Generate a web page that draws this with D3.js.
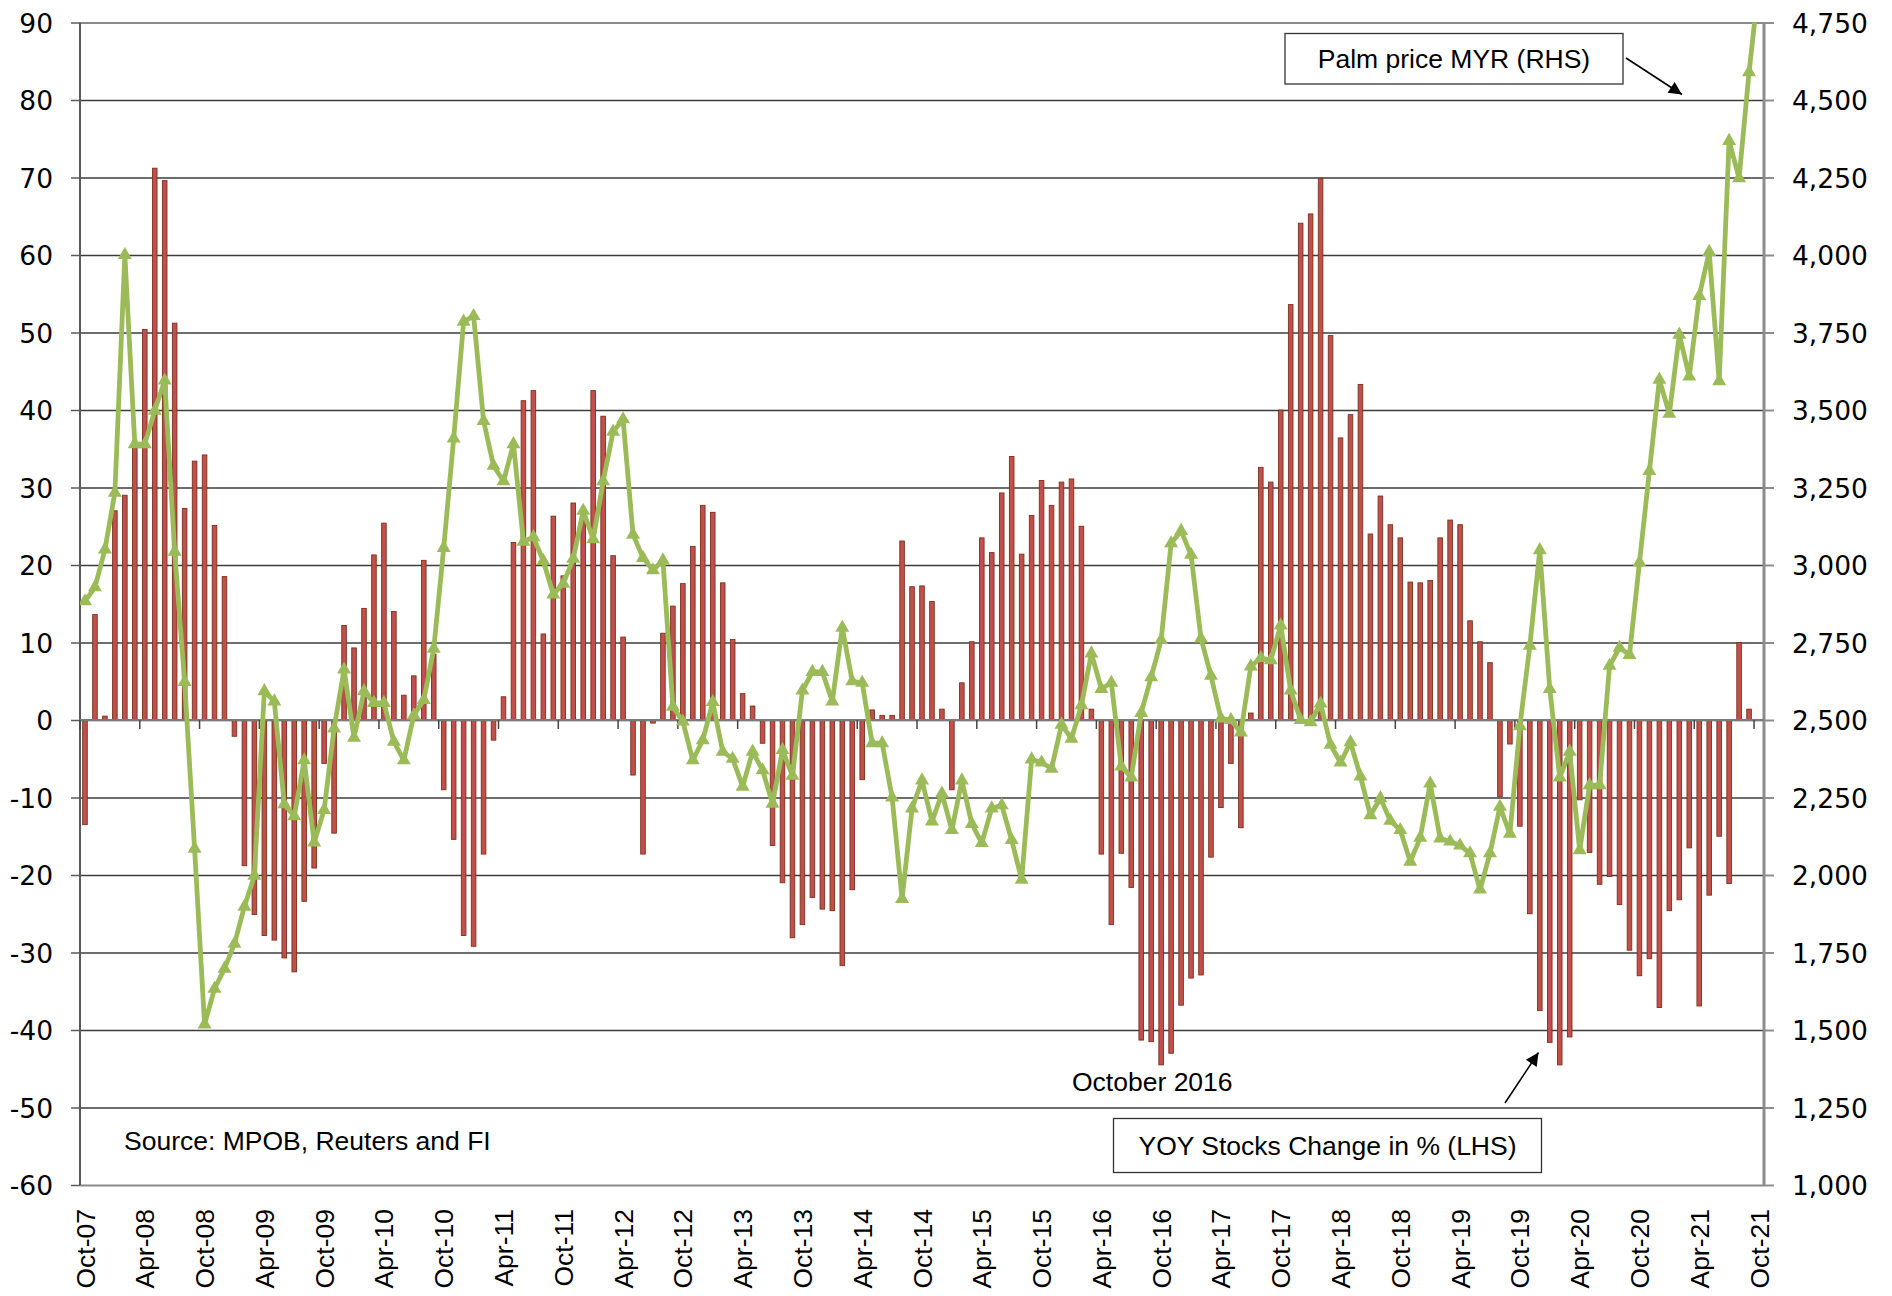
<!DOCTYPE html>
<html><head><meta charset="utf-8">
<script src="https://cdn.jsdelivr.net/npm/d3@7"></script>
<style>body{margin:0;background:#fff} svg{display:block}</style>
</head><body>
<svg id="c" width="1892" height="1296"></svg>
<script>
const categories = [
 "Oct-07","Nov-07","Dec-07",
 "Jan-08","Feb-08","Mar-08","Apr-08","May-08","Jun-08","Jul-08","Aug-08","Sep-08","Oct-08","Nov-08","Dec-08",
 "Jan-09","Feb-09","Mar-09","Apr-09","May-09","Jun-09","Jul-09","Aug-09","Sep-09","Oct-09","Nov-09","Dec-09",
 "Jan-10","Feb-10","Mar-10","Apr-10","May-10","Jun-10","Jul-10","Aug-10","Sep-10","Oct-10","Nov-10","Dec-10",
 "Jan-11","Feb-11","Mar-11","Apr-11","May-11","Jun-11","Jul-11","Aug-11","Sep-11","Oct-11","Nov-11","Dec-11",
 "Jan-12","Feb-12","Mar-12","Apr-12","May-12","Jun-12","Jul-12","Aug-12","Sep-12","Oct-12","Nov-12","Dec-12",
 "Jan-13","Feb-13","Mar-13","Apr-13","May-13","Jun-13","Jul-13","Aug-13","Sep-13","Oct-13","Nov-13","Dec-13",
 "Jan-14","Feb-14","Mar-14","Apr-14","May-14","Jun-14","Jul-14","Aug-14","Sep-14","Oct-14","Nov-14","Dec-14",
 "Jan-15","Feb-15","Mar-15","Apr-15","May-15","Jun-15","Jul-15","Aug-15","Sep-15","Oct-15","Nov-15","Dec-15",
 "Jan-16","Feb-16","Mar-16","Apr-16","May-16","Jun-16","Jul-16","Aug-16","Sep-16","Oct-16","Nov-16","Dec-16",
 "Jan-17","Feb-17","Mar-17","Apr-17","May-17","Jun-17","Jul-17","Aug-17","Sep-17","Oct-17","Nov-17","Dec-17",
 "Jan-18","Feb-18","Mar-18","Apr-18","May-18","Jun-18","Jul-18","Aug-18","Sep-18","Oct-18","Nov-18","Dec-18",
 "Jan-19","Feb-19","Mar-19","Apr-19","May-19","Jun-19","Jul-19","Aug-19","Sep-19","Oct-19","Nov-19","Dec-19",
 "Jan-20","Feb-20","Mar-20","Apr-20","May-20","Jun-20","Jul-20","Aug-20","Sep-20","Oct-20","Nov-20","Dec-20",
 "Jan-21","Feb-21","Mar-21","Apr-21","May-21","Jun-21","Jul-21","Aug-21","Sep-21","Oct-21"
];
const tickLabels = ["Oct-07","Apr-08","Oct-08","Apr-09","Oct-09","Apr-10","Oct-10","Apr-11","Oct-11","Apr-12",
 "Oct-12","Apr-13","Oct-13","Apr-14","Oct-14","Apr-15","Oct-15","Apr-16","Oct-16","Apr-17","Oct-17","Apr-18",
 "Oct-18","Apr-19","Oct-19","Apr-20","Oct-20","Apr-21","Oct-21"];
// YOY stocks change in % (LHS)
const stocksYoY = [
 -13.5, 13.6, 0.5, 27.0, 29.0, 35.5, 50.4, 71.2, 69.6, 51.2, 27.3, 33.4,
 34.2, 25.1, 18.5, -2.1, -18.8, -25.1, -27.8, -28.4, -30.7, -32.5, -23.4, -19.1,
 -5.6, -14.6, 12.2, 9.3, 14.4, 21.3, 25.4, 14.0, 3.2, 5.7, 20.6, 8.5,
 -9.0, -15.4, -27.8, -29.2, -17.3, -2.6, 3.0, 22.9, 41.2, 42.5, 11.1, 26.3,
 18.6, 28.0, 27.0, 42.5, 39.2, 21.2, 10.7, -7.1, -17.3, -0.4, 11.2, 14.7,
 17.6, 22.4, 27.7, 26.8, 17.7, 10.4, 3.4, 1.8, -3.0, -16.2, -21.0, -28.1,
 -26.4, -22.9, -24.4, -24.6, -31.7, -21.9, -7.7, 1.3, 0.6, 0.6, 23.1, 17.2,
 17.3, 15.3, 1.4, -9.0, 4.8, 10.1, 23.5, 21.6, 29.3, 34.0, 21.4, 26.4,
 30.9, 27.7, 30.7, 31.1, 25.0, 1.4, -17.3, -26.4, -17.2, -21.6, -41.3, -41.5,
 -44.5, -43.0, -36.8, -33.3, -32.9, -17.7, -11.3, -5.6, -13.9, 0.9, 32.6, 30.7,
 40.0, 53.6, 64.1, 65.3, 69.9, 49.6, 36.4, 39.4, 43.3, 24.0, 28.9, 25.2,
 23.5, 17.8, 17.7, 18.0, 23.5, 25.8, 25.2, 12.8, 10.1, 7.4, -9.9, -3.1,
 -13.7, -25.0, -37.5, -41.6, -44.5, -40.9, -10.3, -17.1, -21.2, -20.2, -23.8, -29.7,
 -33.0, -30.8, -37.1, -24.6, -23.2, -16.5, -36.9, -22.6, -15.0, -21.1, 10.0, 1.4,
 null
];
// Palm price MYR (RHS)
const palmPrice = [
 2883, 2928, 3050, 3233, 4000, 3390, 3390, 3498, 3595, 3043, 2623, 2085,
 1518, 1633, 1698, 1778, 1898, 1998, 2593, 2560, 2228, 2190, 2370, 2105,
 2210, 2473, 2663, 2443, 2593, 2555, 2555, 2430, 2370, 2515, 2565, 2730,
 3055, 3408, 3785, 3803, 3465, 3320, 3270, 3390, 3075, 3090, 3013, 2905,
 2940, 3020, 3175, 3083, 3270, 3430, 3470, 3098, 3023, 2983, 3015, 2543,
 2495, 2370, 2435, 2558, 2398, 2375, 2285, 2398, 2338, 2230, 2403, 2320,
 2595, 2655, 2655, 2560, 2798, 2625, 2620, 2425, 2425, 2250, 1923, 2215,
 2305, 2173, 2263, 2145, 2305, 2165, 2103, 2215, 2225, 2113, 1985, 2373,
 2363, 2343, 2485, 2440, 2548, 2715, 2600, 2620, 2350, 2315, 2523, 2638,
 2758, 3070, 3110, 3033, 2763, 2643, 2505, 2500, 2460, 2673, 2700, 2693,
 2805, 2595, 2500, 2493, 2553, 2420, 2363, 2428, 2318, 2193, 2248, 2175,
 2145, 2043, 2120, 2295, 2118, 2108, 2095, 2070, 1953, 2070, 2220, 2133,
 2480, 2740, 3048, 2600, 2315, 2398, 2080, 2290, 2290, 2675, 2733, 2710,
 3008, 3303, 3598, 3488, 3743, 3608, 3868, 4010, 3593, 4368, 4248, 4590,
 4880
];
const leftTicks = [-60,-50,-40,-30,-20,-10,0,10,20,30,40,50,60,70,80,90];
const rightTicks = [1000,1250,1500,1750,2000,2250,2500,2750,3000,3250,3500,3750,4000,4250,4500,4750];

const L = 80, R = 1764, T = 22.5, B = 1185;
const svg = d3.select('#c');
const x = d3.scaleBand().domain(categories).range([L, R]).padding(0);
const bw = x.bandwidth();
const yL = d3.scaleLinear().domain([-60, 90]).range([B, T]);
const yR = d3.scaleLinear().domain([1000, 4750]).range([B, T]);
const numFont = "'DejaVu Sans', Verdana, sans-serif";
const txtFont = "'Liberation Sans', Arial, sans-serif";

svg.append('defs').html(`
 <clipPath id="plotClip"><rect x="${L}" y="${T}" width="${R-L}" height="${B-T}"/></clipPath>
 <marker id="arrow" viewBox="0 0 10 10" refX="10" refY="5" markerUnits="userSpaceOnUse" markerWidth="17" markerHeight="13" orient="auto">
   <path d="M0,0 L10,5 L0,10 z" fill="#000"/></marker>`);

// gridlines
const grid = svg.append('g').attr('transform', `translate(${L},0)`)
  .call(d3.axisLeft(yL).tickValues(leftTicks).tickSize(-(R - L)).tickFormat(''));
grid.select('.domain').remove();
grid.selectAll('.tick line')
  .attr('stroke', d => (d === -60 || d === 90) ? '#8a8a8a' : '#3c3c3c')
  .attr('stroke-width', d => (d === -60 || d === 90) ? 2.2 : 1.3);

// left axis
const ax = svg.append('g').attr('transform', `translate(${L},0)`)
  .call(d3.axisLeft(yL).tickValues(leftTicks).tickSize(9).tickPadding(18).tickFormat(d => String(d)));
ax.select('.domain').attr('stroke', '#5a5a5a').attr('stroke-width', 2).attr('d', `M0,${T}V${B}`);
ax.selectAll('.tick line').attr('stroke', '#5a5a5a').attr('stroke-width', 1.5);
ax.selectAll('.tick text').attr('font-family', numFont).attr('font-size', 26.5).attr('fill', '#000')
  .attr('dy', null).attr('dominant-baseline', 'central');

// right axis
const ar = svg.append('g').attr('transform', `translate(${R},0)`)
  .call(d3.axisRight(yR).tickValues(rightTicks).tickSize(10).tickPadding(18).tickFormat(d3.format(',')));
ar.select('.domain').attr('stroke', '#8c8c8c').attr('stroke-width', 3).attr('d', `M0,${T}V${B}`);
ar.selectAll('.tick line').attr('stroke', '#8c8c8c').attr('stroke-width', 2);
ar.selectAll('.tick text').attr('font-family', numFont).attr('font-size', 26.5).attr('fill', '#000')
  .attr('dy', null).attr('dominant-baseline', 'central');

// bars
const barW = bw * 0.46;
svg.append('g').selectAll('rect')
  .data(categories.map((c, i) => ({c, v: stocksYoY[i]})).filter(d => d.v !== null))
  .join('rect')
  .attr('x', d => x(d.c) + (bw - barW) / 2)
  .attr('width', barW)
  .attr('y', d => yL(Math.max(0, d.v)))
  .attr('height', d => Math.abs(yL(d.v) - yL(0)))
  .attr('fill', '#c0504d').attr('stroke', '#7e3019').attr('stroke-width', 0.9);

// category axis at zero with ticks between categories
const zx = svg.append('g').attr('transform', `translate(0,${yL(0)})`)
  .call(d3.axisBottom(x).tickValues(tickLabels).tickSize(9).tickFormat(''));
zx.select('.domain').attr('stroke', '#7a7a7a').attr('stroke-width', 2).attr('d', `M${L},0H${R}`);
zx.selectAll('.tick line').attr('stroke', '#444').attr('stroke-width', 1.5)
  .attr('x1', -bw / 2).attr('x2', -bw / 2);

// x labels at bottom
const bx = svg.append('g').attr('transform', `translate(0,${B})`)
  .call(d3.axisBottom(x).tickValues(tickLabels).tickSize(0));
bx.select('.domain').remove();
bx.selectAll('.tick text')
  .attr('transform', 'rotate(-90)').attr('x', -24).attr('y', 0).attr('dy', '0.36em')
  .attr('text-anchor', 'end').attr('font-family', txtFont).attr('font-size', 26.5).attr('fill', '#000');

// price line
const pts = categories.map((c, i) => ({c, v: palmPrice[i]}));
const line = d3.line().x(d => x(d.c) + bw / 2).y(d => yR(d.v));
const lg = svg.append('g').attr('clip-path', 'url(#plotClip)');
lg.append('path').datum(pts).attr('d', line)
  .attr('fill', 'none').attr('stroke', '#9bbb59').attr('stroke-width', 4.8)
  .attr('stroke-linejoin', 'round');
lg.selectAll('path.m').data(pts).join('path').attr('class', 'm')
  .attr('transform', d => `translate(${x(d.c) + bw / 2},${yR(d.v)})`)
  .attr('d', d3.symbol(d3.symbolTriangle, 85))
  .attr('fill', '#9bbb59');

// annotations
const ann = svg.append('g').attr('font-family', txtFont).attr('font-size', 26.5).attr('fill', '#000');
ann.append('rect').attr('x', 1285).attr('y', 33.5).attr('width', 338).attr('height', 50.5)
  .attr('fill', '#fff').attr('stroke', '#333').attr('stroke-width', 1.3);
ann.append('text').attr('x', 1454).attr('y', 68).attr('text-anchor', 'middle').text('Palm price MYR (RHS)');
ann.append('line').attr('x1', 1626).attr('y1', 58).attr('x2', 1682).attr('y2', 94.5)
  .attr('stroke', '#000').attr('stroke-width', 1.6).attr('marker-end', 'url(#arrow)');

ann.append('rect').attr('x', 1113.5).attr('y', 1118.5).attr('width', 428).attr('height', 54)
  .attr('fill', '#fff').attr('stroke', '#333').attr('stroke-width', 1.3);
ann.append('text').attr('x', 1327.5).attr('y', 1155).attr('text-anchor', 'middle').text('YOY Stocks Change in % (LHS)');
ann.append('line').attr('x1', 1505).attr('y1', 1103).attr('x2', 1538.5).attr('y2', 1052.5)
  .attr('stroke', '#000').attr('stroke-width', 1.6).attr('marker-end', 'url(#arrow)');

ann.append('text').attr('x', 1072).attr('y', 1091).text('October 2016');
ann.append('text').attr('x', 124).attr('y', 1150).text('Source: MPOB, Reuters and FI');
</script>
</body></html>
